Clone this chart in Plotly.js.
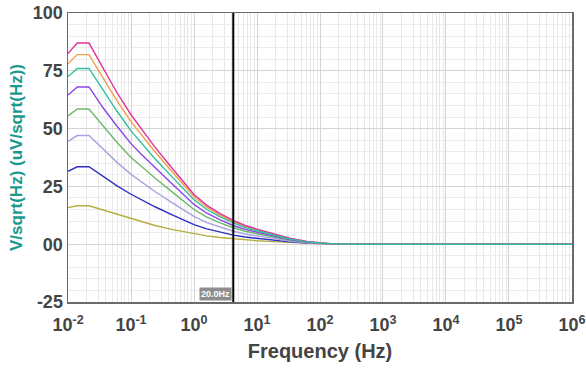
<!DOCTYPE html>
<html>
<head>
<meta charset="utf-8">
<script src="https://cdn.plot.ly/plotly-3.0.1.min.js"></script>
<style>html,body{margin:0;padding:0;background:#fff;}#chart{width:586px;height:374px;}</style>
</head>
<body>
<div id="chart"></div>
<script>
// Frequency samples (Hz)
const freq = [0.01, 0.014, 0.0215, 0.036, 0.06, 0.1, 0.14, 0.24, 0.46, 1, 1.6, 2.6, 4.2, 6.5, 10, 18, 33, 62, 145, 300, 1000, 10000, 100000, 1000000];

// Series values (uV/sqrt(Hz))
const pink     = [82.5, 87, 87, 76, 65.5, 56, 50.5, 42, 32.5, 21.5, 16.8, 13.2, 10.3, 8.1, 6.5, 4.6, 2.6, 1.2, 0.2, 0, 0, 0, 0, 0];
const orange   = [78, 82, 82, 72, 62, 53, 48, 40, 31, 20.5, 16, 12.6, 9.8, 7.7, 6.2, 4.4, 2.5, 1.1, 0.2, 0, 0, 0, 0, 0];
const teal     = [72.5, 76, 76, 66.5, 57.5, 49, 44.3, 37, 28.8, 19.2, 15, 11.8, 9.2, 7.2, 5.8, 4.1, 2.3, 1.0, 0.2, 0, 0, 0, 0, 0];
const purple   = [64.5, 68, 68, 59, 51, 43.5, 39.3, 33, 25.8, 17.2, 13.4, 10.5, 8.1, 6.4, 5.1, 3.6, 2.0, 0.9, 0.15, 0, 0, 0, 0, 0];
const green    = [55.5, 58.5, 58.5, 51, 44, 37.5, 34, 28.6, 22.4, 15, 11.7, 9.2, 7.1, 5.6, 4.5, 3.2, 1.8, 0.8, 0.1, 0, 0, 0, 0, 0];
const lavender = [44.5, 47, 47, 41, 35.4, 30.2, 27.3, 22.8, 17.8, 12, 9.3, 7.3, 5.6, 4.4, 3.6, 2.5, 1.4, 0.6, 0.1, 0, 0, 0, 0, 0];
const blue     = [31.5, 33.5, 33.5, 29.3, 25.2, 21.6, 19.4, 16.2, 12.6, 8.5, 6.6, 5.1, 3.9, 3.1, 2.5, 1.7, 1.0, 0.45, 0.08, 0, 0, 0, 0, 0];
const olive    = [15.8, 16.6, 16.6, 14.8, 12.8, 10.9, 9.8, 8.1, 6.3, 4.5, 3.6, 2.9, 2.3, 1.9, 1.5, 1.1, 0.7, 0.3, 0.05, 0, 0, 0, 0, 0];

const seriesNames = ['olive', 'blue', 'lavender', 'green', 'purple', 'orange', 'pink', 'teal'];
const seriesData  = [olive, blue, lavender, green, purple, orange, pink, teal];
const seriesColors = ['#b5ad3c', '#2f2fc4', '#a9a2e2', '#6db86d', '#8a46e6', '#f0a04c', '#e0339c', '#2fbf9f'];

// Axis ticks
const yTickVals = [-25, 0, 25, 50, 75, 100];
const yTickText = ['-25', '00', '25', '50', '75', '100'];
const xTickVals = [0.01, 0.1, 1, 10, 100, 1000, 10000, 100000, 1000000];
const xTickText = ['10<sup>-2</sup>', '10<sup>-1</sup>', '10<sup>0</sup>', '10<sup>1</sup>', '10<sup>2</sup>', '10<sup>3</sup>', '10<sup>4</sup>', '10<sup>5</sup>', '10<sup>6</sup>'];

// Cursor
const cursorFreq = 4.2;
const cursorLabel = '20.0Hz';

const traces = seriesData.map((d, i) => ({
  x: freq, y: d, type: 'scatter', mode: 'lines', name: seriesNames[i],
  line: {color: seriesColors[i], width: 1.4}, hoverinfo: 'skip'
}));

const FAM = 'Liberation Sans, Arial, sans-serif';
const tickFont = {family: FAM, size: 18, color: '#444', weight: 700};

const layout = {
  width: 586, height: 374,
  margin: {l: 68, r: 14, t: 13, b: 72},
  paper_bgcolor: '#fff', plot_bgcolor: '#fff',
  showlegend: false,
  xaxis: {
    type: 'log', range: [-2.0005, 6.0005], tickvals: xTickVals, ticktext: xTickText,
    showline: true, mirror: true, linecolor: '#6a6a6a', linewidth: 1.5,
    showgrid: true, gridcolor: '#d4d4d4', gridwidth: 1,
    minor: {showgrid: true, gridcolor: '#e8e8e8', dtick: 'D1', ticks: ''},
    ticks: '', ticklabelstandoff: 6, tickfont: tickFont, zeroline: false,
    title: {text: 'Frequency (Hz)', font: {family: FAM, size: 20, color: '#444', weight: 700}, standoff: 10}
  },
  yaxis: {
    range: [-25, 100], tickvals: yTickVals, ticktext: yTickText,
    showline: true, mirror: true, linecolor: '#6a6a6a', linewidth: 1.5,
    showgrid: true, gridcolor: '#d4d4d4', gridwidth: 1,
    minor: {showgrid: true, gridcolor: '#ececec', dtick: 5, ticks: ''},
    ticks: '', tickfont: tickFont, zeroline: false,
    title: {text: 'V/sqrt(Hz) (uV/sqrt(Hz))', font: {family: FAM, size: 17, color: '#1a9a8c', weight: 700}, standoff: 6}
  },
  shapes: [{
    type: 'line', xref: 'x', yref: 'paper', x0: cursorFreq, x1: cursorFreq, y0: 0, y1: 1,
    line: {color: '#000', width: 2}
  }],
  annotations: [{
    x: Math.log10(cursorFreq), y: 0, xref: 'x', yref: 'paper', xanchor: 'right', yanchor: 'bottom',
    text: cursorLabel, showarrow: false, xshift: -1, yshift: 1,
    bgcolor: '#8e8e8e', borderpad: 1,
    font: {family: FAM, size: 9, color: '#fff', weight: 700}
  }]
};

Plotly.newPlot('chart', traces, layout, {displayModeBar: false, staticPlot: true});
</script>
</body>
</html>
